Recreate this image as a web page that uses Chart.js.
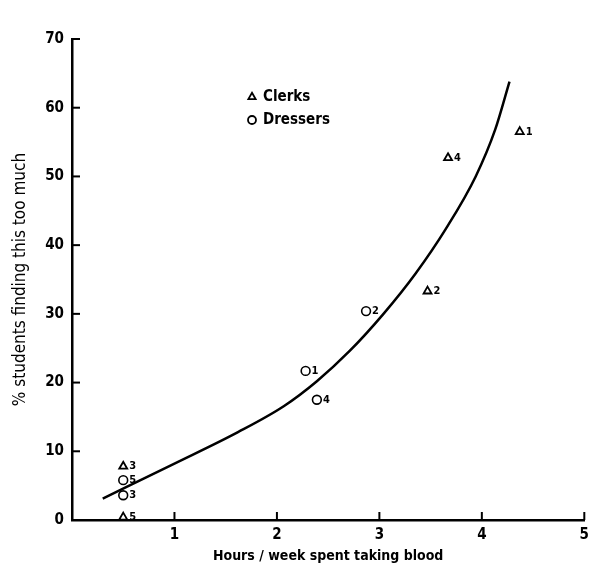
<!DOCTYPE html>
<html>
<head>
<meta charset="utf-8">
<script src="https://cdn.jsdelivr.net/npm/chart.js@4/dist/chart.umd.min.js"></script>
<style>
html,body{margin:0;padding:0;background:#fff;}
#wrap{width:595px;height:565px;}
</style>
</head>
<body>
<div id="wrap"><canvas id="c" width="595" height="565"></canvas></div>
<script>
// Data
const clerksX = [4.37, 3.47, 0.50, 3.67, 0.50];
const clerksY = [56.5, 33.3, 7.8, 52.7, 0.4];
const clerksLabels = ["1", "2", "3", "4", "5"];

const dressersX = [2.28, 2.87, 0.50, 2.39, 0.50];
const dressersY = [21.7, 30.4, 3.6, 17.5, 5.8];
const dressersLabels = ["1", "2", "3", "4", "5"];

const curveX = [0.30, 0.97, 1.62, 2.07, 2.39, 2.71, 3.04, 3.35, 3.65, 3.94, 4.13, 4.27];
const curveY = [3.1, 8.0, 12.8, 16.6, 20.2, 24.6, 30.0, 35.8, 42.4, 50.0, 56.8, 63.8];

const xTicks = [0, 1, 2, 3, 4, 5];
const yTicks = [0, 10, 20, 30, 40, 50, 60, 70];

const legendNames = ["Clerks", "Dressers"];
const xTitle = "Hours / week spent taking blood";
const yTitle = "% students finding this too much";

const FONT = "'Liberation Sans Narrow', 'DejaVu Sans Condensed', 'Liberation Sans', sans-serif";

const toPts = (xs, ys) => xs.map((x, i) => ({x: x, y: ys[i]}));

const inwardTicks = {
  id: 'inwardTicks',
  afterDraw(chart) {
    const ctx = chart.ctx;
    const xs = chart.scales.x, ys = chart.scales.y;
    ctx.save();
    ctx.strokeStyle = '#000';
    ctx.lineWidth = 2;
    xTicks.forEach(v => {
      if (v === 0) return;
      const px = xs.getPixelForValue(v);
      ctx.beginPath();
      ctx.moveTo(px, xs.top);
      ctx.lineTo(px, xs.top - 8);
      ctx.stroke();
    });
    yTicks.forEach(v => {
      if (v === 0) return;
      const py = ys.getPixelForValue(v);
      ctx.beginPath();
      ctx.moveTo(ys.right, py);
      ctx.lineTo(ys.right + 8, py);
      ctx.stroke();
    });
    ctx.restore();
  }
};

const pointLabels = {
  id: 'pointLabels',
  afterDatasetsDraw(chart) {
    const ctx = chart.ctx;
    ctx.save();
    ctx.fillStyle = '#000';
    ctx.font = "bold 11px " + FONT;
    ctx.textAlign = 'left';
    ctx.textBaseline = 'middle';
    chart.data.datasets.forEach((ds, di) => {
      if (!ds.pointNames) return;
      const meta = chart.getDatasetMeta(di);
      meta.data.forEach((el, i) => {
        ctx.fillText(ds.pointNames[i], el.x + 6, el.y);
      });
    });
    ctx.restore();
  }
};

const innerLegend = {
  id: 'innerLegend',
  afterDraw(chart) {
    const ctx = chart.ctx;
    const a = chart.chartArea;
    const x0 = a.left + 180, y0 = a.top + 58;
    ctx.save();
    ctx.textBaseline = 'middle';
    ctx.textAlign = 'left';
    const styles = ['triangle', 'circle'];
    const rads = [4.2, 4.0];
    legendNames.forEach((name, i) => {
      const y = y0 + i * 23;
      ctx.strokeStyle = '#000';
      ctx.fillStyle = 'rgba(0,0,0,0)';
      ctx.lineWidth = 1.8;
      Chart.helpers.drawPoint(ctx, {pointStyle: styles[i], radius: rads[i], borderWidth: 1.8}, x0, y);
      ctx.fillStyle = '#000';
      ctx.font = "bold 15px " + FONT;
      ctx.fillText(name, x0 + 11, y);
    });
    ctx.restore();
  }
};

new Chart(document.getElementById('c'), {
  type: 'scatter',
  data: {
    datasets: [
      {
        label: legendNames[0],
        data: toPts(clerksX, clerksY),
        pointNames: clerksLabels,
        pointStyle: 'triangle',
        pointRadius: 4.6,
        pointBorderWidth: 1.8,
        borderColor: '#000',
        backgroundColor: 'rgba(0,0,0,0)',
        pointBackgroundColor: 'rgba(0,0,0,0)',
        pointBorderColor: '#000',
        showLine: false
      },
      {
        label: legendNames[1],
        data: toPts(dressersX, dressersY),
        pointNames: dressersLabels,
        pointStyle: 'circle',
        pointRadius: 4.4,
        pointBorderWidth: 1.6,
        borderColor: '#000',
        backgroundColor: 'rgba(0,0,0,0)',
        pointBackgroundColor: 'rgba(0,0,0,0)',
        pointBorderColor: '#000',
        showLine: false
      },
      {
        label: 'fit',
        data: toPts(curveX, curveY),
        showLine: true,
        pointRadius: 0,
        borderColor: '#000',
        borderWidth: 2.5,
        cubicInterpolationMode: 'monotone',
        fill: false
      }
    ]
  },
  options: {
    responsive: false,
    animation: false,
    devicePixelRatio: 1,
    layout: {padding: {left: 10, top: 39, right: 5, bottom: 0}},
    plugins: {
      legend: {display: false},
      tooltip: {enabled: false}
    },
    scales: {
      x: {
        type: 'linear',
        min: 0, max: 5,
        afterBuildTicks: s => { s.ticks = xTicks.map(v => ({value: v})); },
        afterFit: s => { s.height = 45; },
        grid: {display: false, drawTicks: false},
        border: {display: true, color: '#000', width: 2.5},
        ticks: {
          color: '#000',
          padding: 6,
          maxRotation: 0,
          font: {family: FONT, size: 15, weight: 'bold'},
          callback: v => (v === 0 ? '' : String(v))
        },
        title: {
          display: true,
          text: xTitle,
          color: '#000',
          padding: {top: 2, bottom: 0},
          font: {family: FONT, size: 14, weight: 'bold'}
        }
      },
      y: {
        type: 'linear',
        min: 0, max: 70,
        afterBuildTicks: s => { s.ticks = yTicks.map(v => ({value: v})); },
        afterFit: s => { s.width = 62; },
        grid: {display: false, drawTicks: false},
        border: {display: true, color: '#000', width: 2.5},
        ticks: {
          color: '#000',
          padding: 8,
          font: {family: FONT, size: 15, weight: 'bold'},
          callback: v => String(v)
        },
        title: {
          display: true,
          text: yTitle,
          color: '#000',
          padding: {top: 0, bottom: 4},
          font: {family: FONT, size: 17, weight: 'normal'}
        }
      }
    }
  },
  plugins: [inwardTicks, pointLabels, innerLegend]
});
</script>
</body>
</html>
